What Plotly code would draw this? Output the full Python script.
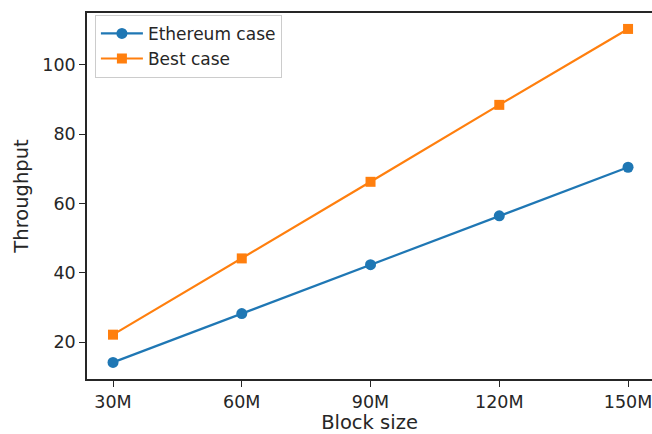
import plotly.graph_objects as go

block_sizes = [30, 60, 90, 120, 150]
tick_labels = ["30M", "60M", "90M", "120M", "150M"]
ethereum_case = [14.2, 28.3, 42.4, 56.5, 70.5]
best_case = [22.2, 44.2, 66.3, 88.5, 110.4]
y_ticks = [20, 40, 60, 80, 100]

fig = go.Figure()
fig.add_trace(go.Scatter(x=block_sizes, y=ethereum_case, name="Ethereum case",
                         mode="lines+markers",
                         line=dict(color="#1f77b4", width=2.2),
                         marker=dict(symbol="circle", size=11, color="#1f77b4")))
fig.add_trace(go.Scatter(x=block_sizes, y=best_case, name="Best case",
                         mode="lines+markers",
                         line=dict(color="#ff7f0e", width=2.2),
                         marker=dict(symbol="square", size=10, color="#ff7f0e")))

axis_common = dict(showgrid=False, zeroline=False, showline=True, linecolor="#262626",
                   linewidth=1.6, ticks="outside", ticklen=6, tickwidth=1.4,
                   tickcolor="#262626", tickfont=dict(size=17.5, color="#262626"))

fig.update_layout(
    width=652, height=434,
    margin=dict(l=87, r=0, t=13, b=55),
    plot_bgcolor="white", paper_bgcolor="white",
    font=dict(family="DejaVu Sans", color="#262626"),
    xaxis=dict(range=[23.94, 155.58], tickvals=block_sizes, ticktext=tick_labels,
               ticklabeloverflow="allow",
               mirror=True, title=dict(text="Block size", font=dict(size=19.5), standoff=6),
               **axis_common),
    yaxis=dict(range=[9.41, 115.0], tickvals=y_ticks,
               title=dict(text="Throughput", font=dict(size=19.5), standoff=8),
               **axis_common),
    legend=dict(x=0.014, y=0.995, xanchor="left", yanchor="top",
                bgcolor="rgba(255,255,255,0.8)", bordercolor="#cccccc", borderwidth=1,
                itemwidth=42,
                font=dict(size=17, color="#262626"), tracegroupgap=0),
    showlegend=True,
)

fig.write_html("out.html",
               config={"displayModeBar": False},
               post_script="document.body.style.margin='0';document.body.style.overflow='hidden';")
